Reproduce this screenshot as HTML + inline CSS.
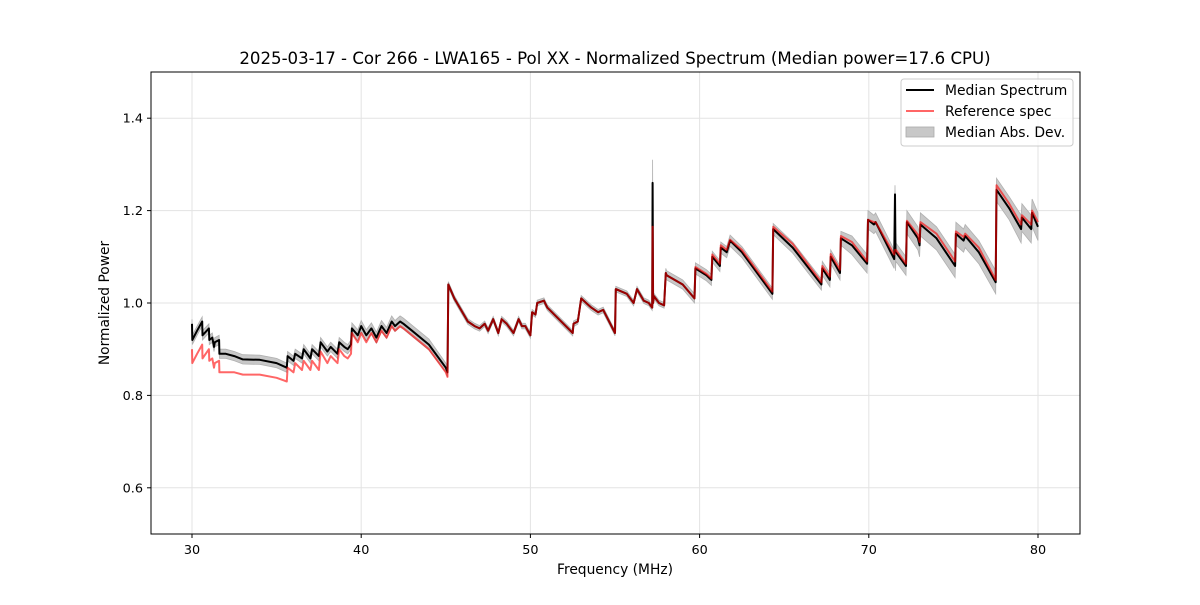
<!DOCTYPE html>
<html><head><meta charset="utf-8"><style>
body{margin:0;background:#fff;}
svg text{font-family:"DejaVu Sans","Liberation Sans",sans-serif;fill:#000;}
</style></head><body>
<svg id="chart" width="1200" height="600" xmlns="http://www.w3.org/2000/svg">
<rect width="1200" height="600" fill="#fff"/>
<text x="615" y="64" font-size="16.6" text-anchor="middle">2025-03-17 - Cor 266 - LWA165 - Pol XX - Normalized Spectrum (Median power=17.6 CPU)</text>
<g id="grid"></g>
<g id="marks"></g>
<rect x="151" y="72" width="929" height="462" fill="none" stroke="#000" stroke-width="1"/>
<g id="axes"></g>
<text x="615" y="574" font-size="13.8" text-anchor="middle">Frequency (MHz)</text>
<text transform="translate(109,303) rotate(-90)" font-size="13.8" text-anchor="middle">Normalized Power</text>
<g>
<rect x="901" y="79" width="172" height="67" rx="3" fill="#fff" fill-opacity="0.8" stroke="#ccc"/>
<line x1="906" y1="90" x2="934" y2="90" stroke="#000" stroke-width="2"/>
<text x="945" y="95" font-size="13.9">Median Spectrum</text>
<line x1="906" y1="111" x2="934" y2="111" stroke="#ff6666" stroke-width="2"/>
<text x="945" y="116" font-size="13.9">Reference spec</text>
<rect x="906" y="127" width="28" height="10" fill="#c8c8c8" stroke="#aaa" stroke-width="0.8"/>
<text x="945" y="137" font-size="13.9">Median Abs. Dev.</text>
</g>
</svg>
<script>
const freqs =    [30.0,30.02,30.3,30.6,30.62,31.0,31.02,31.2,31.3,31.35,31.6,31.62,32.0,32.5,33.0,34.0,35.0,35.6,35.65,36.0,36.1,36.5,36.6,37.0,37.1,37.5,37.6,38.0,38.2,38.6,38.7,39.0,39.2,39.4,39.45,39.8,40.0,40.3,40.6,40.9,41.2,41.5,41.8,42.0,42.3,42.5,43.0,44.0,45.0,45.1,45.15,45.5,46.3,46.7,47.0,47.3,47.5,47.8,48.1,48.3,48.6,49.0,49.3,49.5,49.7,50.0,50.1,50.3,50.4,50.8,51.0,52.5,52.55,52.8,53.0,53.3,53.6,54.0,54.3,55.0,55.05,55.7,56.1,56.3,56.7,57.0,57.2,57.22,57.25,57.3,57.6,57.9,58.0,58.05,59.0,59.7,59.75,60.4,60.7,60.75,61.2,61.25,61.6,61.8,62.5,64.3,64.35,65.5,67.2,67.25,67.7,67.75,68.3,68.35,69.0,69.9,69.95,70.3,70.4,71.5,71.55,71.58,71.6,72.2,72.25,72.9,73.0,73.05,74.0,75.1,75.15,75.6,75.7,76.5,77.5,77.55,78.3,79.0,79.05,79.6,79.65,80.0];
const median =   [0.955,0.92,0.94,0.96,0.93,0.945,0.92,0.925,0.905,0.915,0.92,0.89,0.89,0.885,0.878,0.877,0.87,0.86,0.885,0.875,0.89,0.88,0.9,0.88,0.9,0.885,0.915,0.895,0.905,0.89,0.915,0.905,0.9,0.91,0.945,0.93,0.95,0.93,0.945,0.925,0.95,0.935,0.96,0.95,0.96,0.955,0.94,0.91,0.86,0.85,1.04,1.01,0.96,0.95,0.945,0.955,0.94,0.965,0.935,0.965,0.955,0.935,0.965,0.95,0.95,0.93,0.98,0.975,1.0,1.005,0.99,0.935,0.955,0.96,1.01,1.0,0.99,0.98,0.985,0.935,1.03,1.02,1.0,1.03,1.005,1.0,0.99,1.26,1.0,1.015,1.0,0.995,1.065,1.06,1.04,1.01,1.075,1.06,1.05,1.1,1.08,1.12,1.11,1.135,1.11,1.02,1.16,1.12,1.04,1.075,1.05,1.1,1.065,1.14,1.125,1.085,1.18,1.17,1.175,1.095,1.235,1.11,1.11,1.08,1.175,1.14,1.125,1.17,1.14,1.08,1.15,1.135,1.145,1.11,1.045,1.245,1.205,1.16,1.185,1.16,1.195,1.165];
const reference = [0.9,0.87,0.89,0.91,0.88,0.9,0.875,0.88,0.86,0.87,0.875,0.85,0.85,0.85,0.845,0.845,0.838,0.83,0.86,0.85,0.87,0.855,0.875,0.855,0.875,0.855,0.895,0.87,0.885,0.87,0.9,0.885,0.88,0.89,0.935,0.915,0.935,0.915,0.935,0.915,0.94,0.925,0.95,0.94,0.95,0.945,0.93,0.9,0.85,0.84,1.04,1.01,0.96,0.95,0.945,0.955,0.94,0.965,0.935,0.965,0.955,0.935,0.965,0.95,0.95,0.93,0.98,0.975,1.0,1.005,0.99,0.935,0.955,0.96,1.01,1.0,0.99,0.98,0.985,0.935,1.03,1.02,1.0,1.03,1.005,1.0,0.99,1.165,1.0,1.015,1.0,0.995,1.065,1.06,1.04,1.01,1.078,1.063,1.053,1.105,1.085,1.125,1.115,1.137,1.115,1.025,1.165,1.128,1.045,1.08,1.057,1.106,1.072,1.145,1.132,1.09,1.18,1.175,1.175,1.105,1.115,1.115,1.115,1.085,1.178,1.148,1.132,1.175,1.15,1.09,1.155,1.143,1.15,1.12,1.05,1.255,1.215,1.17,1.19,1.17,1.2,1.175];
const mad =      [0.01,0.01,0.01,0.01,0.01,0.01,0.01,0.01,0.01,0.01,0.01,0.01,0.01,0.01,0.01,0.01,0.01,0.01,0.01,0.01,0.01,0.01,0.01,0.01,0.01,0.01,0.01,0.01,0.01,0.01,0.01,0.01,0.01,0.01,0.012,0.012,0.012,0.012,0.012,0.012,0.012,0.012,0.012,0.012,0.012,0.012,0.012,0.012,0.01,0.01,0.006,0.006,0.006,0.006,0.006,0.006,0.006,0.006,0.006,0.006,0.006,0.006,0.006,0.006,0.006,0.006,0.006,0.006,0.006,0.006,0.006,0.006,0.006,0.006,0.006,0.006,0.006,0.006,0.006,0.006,0.006,0.006,0.006,0.006,0.006,0.006,0.006,0.05,0.006,0.006,0.006,0.006,0.01,0.01,0.01,0.01,0.012,0.012,0.012,0.012,0.012,0.012,0.012,0.012,0.012,0.012,0.012,0.012,0.012,0.015,0.015,0.015,0.015,0.015,0.02,0.02,0.02,0.02,0.02,0.02,0.02,0.04,0.02,0.02,0.025,0.025,0.025,0.025,0.025,0.025,0.025,0.025,0.025,0.025,0.025,0.025,0.025,0.03,0.03,0.03,0.03,0.03,0.03,0.03];
const xTicks = [30,40,50,60,70,80];
const yTicks = [0.6,0.8,1.0,1.2,1.4];
const yTickLabels = ["0.6","0.8","1.0","1.2","1.4"];

const NS="http://www.w3.org/2000/svg";
const X = f => 192 + (f-30)*16.92;
const Y = v => 534 - (v-0.5)*462;
function mk(tag, attrs, parent){const e=document.createElementNS(NS,tag);for(const k in attrs)e.setAttribute(k,attrs[k]);parent.appendChild(e);return e;}
const grid=document.getElementById('grid'), axes=document.getElementById('axes'), marks=document.getElementById('marks');
xTicks.forEach(t=>{
  const gl=mk('line',{x1:X(t),x2:X(t),y1:72,y2:534,stroke:'#e3e3e3','stroke-width':1},grid);
  
  
  mk('line',{x1:X(t),x2:X(t),y1:534,y2:538,stroke:'#000'},axes);
  const tx=mk('text',{x:X(t),y:554,'font-size':12.8,'text-anchor':'middle'},axes);
  tx.textContent=t;
  
  
});
yTicks.forEach((t,i)=>{
  const gl=mk('line',{x1:151,x2:1080,y1:Y(t),y2:Y(t),stroke:'#e3e3e3','stroke-width':1},grid);
  
  
  mk('line',{x1:147,x2:151,y1:Y(t),y2:Y(t),stroke:'#000'},axes);
  const tx=mk('text',{x:143,y:Y(t)+4.5,'font-size':12.8,'text-anchor':'end'},axes);
  tx.textContent=yTickLabels[i];
  
  
});
let up=[],dn=[];
freqs.forEach((f,i)=>{up.push(X(f).toFixed(1)+','+Y(median[i]+mad[i]).toFixed(1));dn.unshift(X(f).toFixed(1)+','+Y(median[i]-mad[i]).toFixed(1));});
const band=mk('polygon',{points:up.concat(dn).join(' '),fill:'#c8c8c8',stroke:'#b0b0b0','stroke-width':0.8},marks);


const mline=mk('polyline',{points:freqs.map((f,i)=>X(f).toFixed(1)+','+Y(median[i]).toFixed(1)).join(' '),fill:'none',stroke:'#000','stroke-width':2,'stroke-linejoin':'round'},marks);


const rline=mk('polyline',{points:freqs.map((f,i)=>X(f).toFixed(1)+','+Y(reference[i]).toFixed(1)).join(' '),fill:'none',stroke:'#ff0000','stroke-opacity':0.6,'stroke-width':2,'stroke-linejoin':'round'},marks);


</script>
</body></html>
